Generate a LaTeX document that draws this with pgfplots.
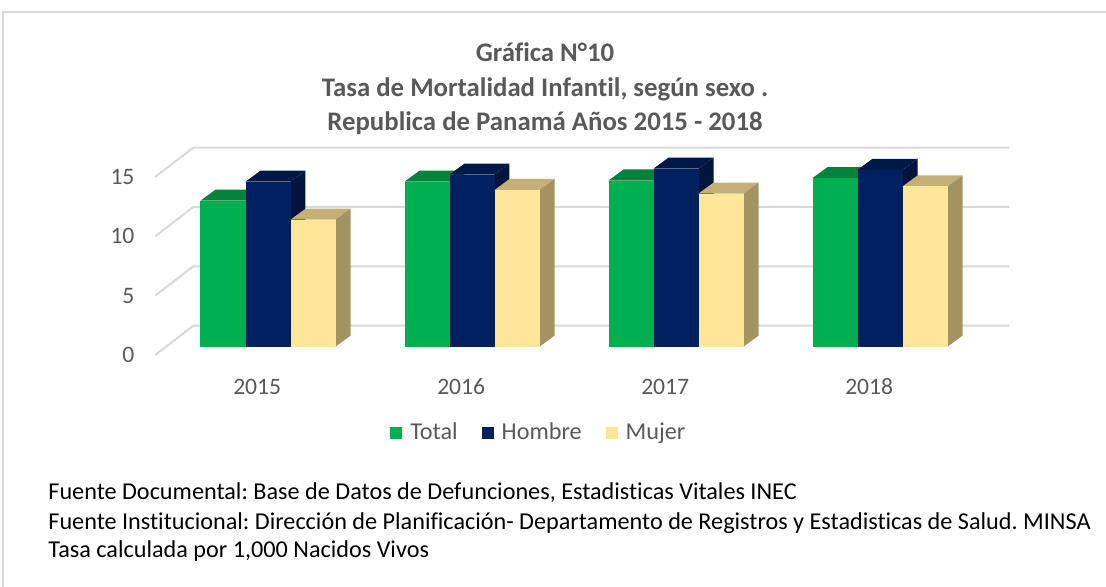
\documentclass[border=0pt]{standalone}
\usepackage{pgfplots}
\pgfplotsset{compat=1.18}
\usepackage{fontspec}
\setmainfont{Carlito}[Ligatures=NoCommon]
\frenchspacing
\definecolor{tg}{HTML}{00B050}
\definecolor{tgt}{HTML}{00843C}
\definecolor{tgs}{HTML}{007533}
\definecolor{th}{HTML}{002060}
\definecolor{tht}{HTML}{001848}
\definecolor{ths}{HTML}{00143E}
\definecolor{tm}{HTML}{FFE699}
\definecolor{tmt}{HTML}{C4B076}
\definecolor{tms}{HTML}{A39360}
\definecolor{gridc}{HTML}{D9D9D9}
\definecolor{lblgray}{HTML}{595959}

\newcommand{\tdbar}[5]{%
 \pgfmathsetmacro\xa{#1}\pgfmathsetmacro\xb{#1+0.2206}%
 \pgfmathsetmacro\xc{#1+0.0735}\pgfmathsetmacro\xd{#1+0.2206+0.0735}%
 \pgfmathsetmacro\yt{#2+0.927}%
 \edef\tmp{%
 \noexpand\addplot[fill=#4,draw=none,forget plot] coordinates {(\xa,#2) (\xc,\yt) (\xd,\yt) (\xb,#2)};
 \noexpand\addplot[fill=#5,draw=none,forget plot] coordinates {(\xb,0) (\xd,0.927) (\xd,\yt) (\xb,#2)};
 \noexpand\addplot[fill=#3,draw=none,forget plot] coordinates {(\xa,0) (\xa,#2) (\xb,#2) (\xb,0)};
 }\tmp}
\newcommand{\tdgroup}[4]{%
 \pgfmathsetmacro\ga{#1-0.3309}\pgfmathsetmacro\gb{#1-0.1103}\pgfmathsetmacro\gc{#1+0.1103}%
 \edef\tmpa{\ga}\edef\tmpb{\gb}\edef\tmpc{\gc}%
 \tdbar{\tmpa}{#2}{tg}{tgt}{tgs}%
 \tdbar{\tmpb}{#3}{th}{tht}{ths}%
 \tdbar{\tmpc}{#4}{tm}{tmt}{tms}}

\begin{document}
\begin{tikzpicture}
\useasboundingbox (0,0) rectangle (553pt,293.5pt);
\draw[gridc, line width=0.8pt] (1.5pt,0pt) -- (1.5pt,287.5pt) -- (553pt,287.5pt);
\begin{axis}[
 at={(70.76pt,116pt)}, anchor=south west,
 width=440.64pt, height=105.05pt, scale only axis,
 xmin=-0.62, xmax=3.7, ymin=-0.7, ymax=17,
 axis line style={draw=none}, major tick length=0pt,
 clip=false,
 xtick={-0.053,0.947,1.947,2.947}, xticklabels={2015,2016,2017,2018},
 ytick={-0.7,4.3,9.3,14.3}, yticklabels={0,5,10,15},
 tick label style={font=\fontsize{11.8}{14}\selectfont, text=lblgray},
 xticklabel style={anchor=north, text height=8pt, text depth=2pt, yshift=-8pt},
 legend style={at={(0.452,-0.371)}, anchor=center, draw=none, fill=none,
   legend columns=3, font=\fontsize{12.1}{14}\selectfont, text=lblgray,
   /tikz/every even column/.append style={column sep=10pt}},
 legend image code/.code={\fill[#1] (1pt,-3pt) rectangle (7pt,3pt);},
]
\addplot[gridc, line width=1pt, forget plot] coordinates {(-0.553,-0.7) (-0.366,1.77) (3.634,1.77)};
\addplot[gridc, line width=1pt, forget plot] coordinates {(-0.553,4.3) (-0.366,6.77) (3.634,6.77)};
\addplot[gridc, line width=1pt, forget plot] coordinates {(-0.553,9.3) (-0.366,11.77) (3.634,11.77)};
\addplot[gridc, line width=1pt, forget plot] coordinates {(-0.553,14.3) (-0.366,16.77) (3.634,16.77)};
\tdgroup{0}{12.3}{13.9}{10.7}
\tdgroup{1}{13.9}{14.5}{13.2}
\tdgroup{2}{14.0}{15.0}{12.9}
\tdgroup{3}{14.2}{14.9}{13.5}
\addlegendimage{fill=tg, draw=none}
\addlegendentry{\hspace{2pt}Total}
\addlegendimage{fill=th, draw=none}
\addlegendentry{\hspace{2pt}Hombre}
\addlegendimage{fill=tm, draw=none}
\addlegendentry{\hspace{2pt}Mujer}
\end{axis}
\begin{scope}[font=\fontsize{13.4}{16}\selectfont\bfseries, text=lblgray]
\node[anchor=base] at (272.5pt,262.5pt) {Gráfica N°10};
\node[anchor=base] at (272.5pt,245pt) {Tasa de Mortalidad Infantil, según sexo .};
\node[anchor=base] at (272.5pt,228pt) {Republica de Panamá Años 2015 - 2018};
\end{scope}
\begin{scope}[font=\fontsize{12.1}{14}\selectfont, text=black]
\node[anchor=base west, inner sep=0pt] at (24pt,43.5pt) {Fuente Documental: Base de Datos de Defunciones, Estadisticas Vitales INEC};
\node[anchor=base west, inner sep=0pt] at (24pt,28.5pt) {Fuente Institucional: Dirección de Planificación- Departamento de Registros y Estadisticas de Salud. MINSA};
\node[anchor=base west, inner sep=0pt] at (24pt,14.5pt) {Tasa calculada por 1,000 Nacidos Vivos};
\end{scope}
\end{tikzpicture}
\end{document}
